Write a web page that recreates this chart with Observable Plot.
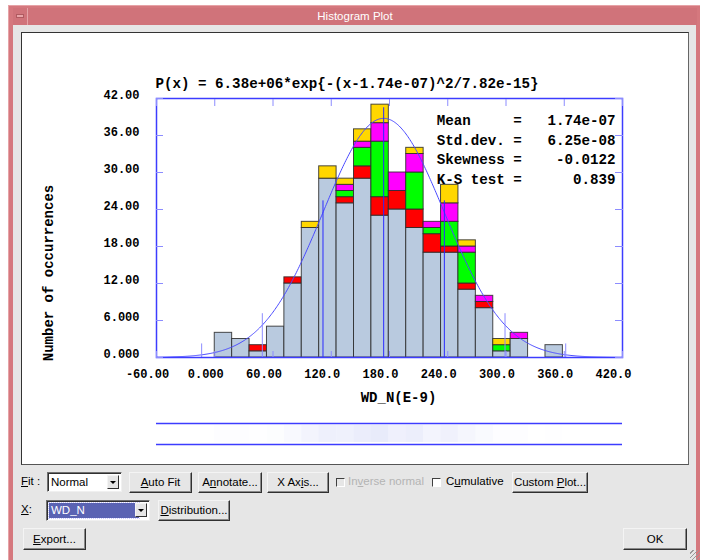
<!DOCTYPE html>
<html><head><meta charset="utf-8">
<script src="https://cdn.jsdelivr.net/npm/d3@7"></script>
<script src="https://cdn.jsdelivr.net/npm/@observablehq/plot@0.6"></script>
<style>
html,body{margin:0;padding:0;background:#fff;}
body{width:704px;height:560px;overflow:hidden;position:relative;font-family:"Liberation Sans",Arial,sans-serif;font-size:11.5px;color:#000;}
.abs{position:absolute;box-sizing:border-box;white-space:nowrap;}
.win{left:8px;top:5px;width:692px;height:560px;background:#d5787e;border-top:1px solid #e6a3a7;border-left:1px solid #e6a3a7;}
.title{left:13px;top:8px;width:684px;height:17px;color:#fff;text-align:center;line-height:17px;font-size:11.5px;background:#d0737a;}
.menu{left:13px;top:8px;width:15px;height:17px;border-right:1px solid #e6a3a7;}
.menu i{position:absolute;left:3px;top:6px;width:8px;height:4px;background:#e9a4a8;border:1px solid #b05a60;box-sizing:border-box;}
.client{left:13px;top:25px;width:683px;height:540px;background:#e6e6e6;}
.panel{left:21px;top:32px;width:668px;height:433px;background:#fff;border:1px solid #444;border-color:#333 #666 #555 #333;}
.btn{background:#e6e6e6;border:1px solid;border-color:#f4f4f4 #303030 #303030 #f4f4f4;box-shadow:inset -1px -1px #8a8a8a;text-align:center;}
.sel{background:#fff;border:1px solid;border-color:#707070 #f0f0f0 #f0f0f0 #707070;box-shadow:inset 1px 1px #303030;}
.arr{position:absolute;right:2px;top:2px;width:12px;height:14px;box-sizing:border-box;background:#e6e6e6;border:1px solid;border-color:#f4f4f4 #303030 #303030 #f4f4f4;}
.arr:after{content:"";position:absolute;left:2px;top:5px;border-left:3px solid transparent;border-right:3px solid transparent;border-top:3px solid #000;}
.cb{width:9px;height:9px;border:1px solid;border-color:#404040 #fff #fff #404040;background:#e6e6e6;}
.grip{right:4px;bottom:0px;width:10px;height:10px;background:repeating-linear-gradient(135deg,transparent 0 2px,#999 2px 3px);}
u{text-decoration:underline;}
</style>
</head><body>
<div class="abs win"></div>
<div class="abs title">Histogram Plot</div>
<div class="abs menu"><i></i></div>
<div class="abs client"></div>
<div class="abs grip"></div>
<div class="abs panel" id="panel"></div>

<div class="abs" style="left:21px;top:475px;"><u>F</u>it :</div>
<div class="abs sel" style="left:47px;top:472px;width:75px;height:20px;line-height:18px;padding-left:3px;">Normal<span class="arr"></span></div>
<div class="abs btn" style="left:129px;top:472px;width:63px;height:21px;line-height:19px;"><u>A</u>uto Fit</div>
<div class="abs btn" style="left:198px;top:472px;width:64px;height:21px;line-height:19px;">A<u>n</u>notate...</div>
<div class="abs btn" style="left:267px;top:472px;width:62px;height:21px;line-height:19px;">X Ax<u>i</u>s...</div>
<div class="abs cb" style="left:336px;top:478px;"></div>
<div class="abs" style="left:348px;top:475px;color:#b4b4b4;">In<u>v</u>erse normal</div>
<div class="abs cb" style="left:432px;top:478px;background:#fff;"></div>
<div class="abs" style="left:446px;top:475px;">C<u>u</u>mulative</div>
<div class="abs btn" style="left:512px;top:472px;width:76px;height:21px;line-height:19px;">Custom <u>P</u>lot...</div>

<div class="abs" style="left:21px;top:503px;"><u>X</u>:</div>
<div class="abs sel" style="left:46px;top:500px;width:104px;height:21px;padding:2px;"><div style="background:#5a63b3;color:#fff;height:15px;line-height:15px;width:88px;outline:1px dotted #c8c8ff;padding-left:2px;">WD_N</div><span class="arr"></span></div>
<div class="abs btn" style="left:158px;top:500px;width:72px;height:21px;line-height:19px;"><u>D</u>istribution...</div>

<div class="abs btn" style="left:23px;top:528px;width:63px;height:22px;line-height:20px;"><u>E</u>xport...</div>
<div class="abs btn" style="left:623px;top:528px;width:64px;height:22px;line-height:20px;">OK</div>

<script>
// ---- data ----
const binStarts = [0, 17.93, 35.86, 53.79, 71.72, 89.65, 107.58, 125.51, 143.44, 161.37,
                   179.3, 197.23, 215.16, 233.09, 251.02, 268.95, 286.88, 304.81, 322.74, 340.67];
const binWidth = 17.93; // E-9 units
const layerNames = ["base", "red", "green", "magenta", "yellow"];
const layerColors = ["#b9cadf", "#ff0000", "#00ff00", "#ff00ff", "#ffd700"];
const baseCounts    = [4, 3, 1, 5, 12, 21, 29, 25, 29, 23, 24, 21, 17, 17, 11, 8, 1, 3, 0, 2];
const redCounts     = [0, 0, 1, 0, 1, 0, 0, 1, 2, 3, 3, 3, 3, 1, 1, 1, 0, 0, 0, 0];
const greenCounts   = [0, 0, 0, 0, 0, 0, 0, 1, 3, 9, 0, 6, 1, 4, 5, 0, 1, 0, 0, 0];
const magentaCounts = [0, 0, 0, 0, 0, 0, 0, 1, 1, 3, 3, 3, 1, 3, 1, 1, 0, 1, 0, 0];
const yellowCounts  = [0, 0, 0, 0, 0, 1, 2, 1, 2, 3, 0, 1, 0, 3, 1, 0, 1, 0, 0, 0];

const xTickValues = [-60, 0, 60, 120, 180, 240, 300, 360, 420];
const xTickLabels = ["-60.00", "0.000", "60.00", "120.0", "180.0", "240.0", "300.0", "360.0", "420.0"];
const yTickValues = [0, 6, 12, 18, 24, 30, 36, 42];
const yTickLabels = ["0.000", "6.000", "12.00", "18.00", "24.00", "30.00", "36.00", "42.00"];

const formulaText = "P(x) = 6.38e+06*exp{-(x-1.74e-07)^2/7.82e-15}";
const fitAmp = 6.38e6;      // per metre
const fitMean = 174;        // E-9  (1.74e-07)
const fitSigma = 62.5;      // E-9  (6.25e-08)
const fitTwoVar = 7820;     // E-18 (7.82e-15)
const statNames = ["Mean", "Std.dev.", "Skewness", "K-S test"];
const statValues = ["1.74e-07", "6.25e-08", "-0.0122", "0.839"];
const markerSigmas = [-3, -2, -1, 0, 1, 2, 3];
const markerHeights = [2.2, 7.1, 25.4, 40.5, 25.4, 7.1, 2.2];
const xTitle = "WD_N(E-9)";
const yTitle = "Number of occurrences";

// ---- derived tables ----
const countsByLayer = [baseCounts, redCounts, greenCounts, magentaCounts, yellowCounts];
const rows = [];
binStarts.forEach((s, i) => {
  layerNames.forEach((L, j) => {
    const c = countsByLayer[j][i];
    if (c > 0) rows.push({x1: s, x2: s + binWidth, layer: L, count: c});
  });
});
const totals = binStarts.map((s, i) => ({x1: s, x2: s + binWidth, total: d3.sum(countsByLayer, a => a[i])}));
const N = d3.sum(totals, d => d.total);
const maxTotal = d3.max(totals, d => d.total);
const fitPeak = fitAmp * N * binWidth * 1e-9;
const curve = d3.range(-60, 420.01, 1).map(x => ({x, y: fitPeak * Math.exp(-((x - fitMean) ** 2) / fitTwoVar)}));
const markers = markerSigmas.map((k, i) => ({k, x: fitMean + k * fitSigma, h: markerHeights[i]}));
const xLabelMap = new Map(xTickValues.map((v, i) => [v, xTickLabels[i]]));
const yLabelMap = new Map(yTickValues.map((v, i) => [v, yTickLabels[i]]));
const nb = s => s.replace(/ /g, "\u00a0");
const statsText = statNames.map((n, i) => nb(n.padEnd(9) + "=" + statValues[i].padStart(11))).join("\n");

const blue = "#3c3cff", lightBlue = "#8c8cff";
const mono = "'Liberation Mono', 'DejaVu Sans Mono', monospace";

const chart = Plot.plot({
  width: 666, height: 380,
  marginLeft: 134, marginRight: 66, marginTop: 65, marginBottom: 56,
  style: {background: "transparent", fontFamily: mono, fontSize: "12px", fontWeight: "bold", color: "#000", overflow: "visible"},
  x: {domain: [-60, 420]},
  y: {domain: [0, 42]},
  color: {type: "ordinal", domain: layerNames, range: layerColors},
  marks: [
    Plot.rectY(rows, {x1: "x1", x2: "x2", y: "count", z: "layer", fill: "layer", order: layerNames,
      stroke: "#2a2a2a", strokeWidth: 1, strokeOpacity: 0.85}),
    Plot.line(curve, {x: "x", y: "y", stroke: "#4a4aff", strokeWidth: 1}),
    Plot.ruleX(markers, {x: "x", y1: 0, y2: "h", stroke: d => Math.abs(d.k) <= 1 ? "#2a2aff" : lightBlue, strokeWidth: 1}),
    Plot.frame({stroke: blue, strokeWidth: 1.5}),
    Plot.axisX(xTickValues, {anchor: "bottom", tickSize: 0, tickPadding: 12, dx: -9, tickFormat: d => xLabelMap.get(d), label: null, fontSize: 12}),
    Plot.axisX(xTickValues, {anchor: "bottom", tickSize: -6, tickFormat: () => "", label: null, stroke: lightBlue}),
    Plot.axisX(xTickValues, {anchor: "top", tickSize: -7, tickFormat: () => "", label: null, stroke: lightBlue}),
    Plot.axisY(yTickValues, {anchor: "left", tickSize: 0, tickPadding: 17, dy: -3, tickFormat: d => yLabelMap.get(d), label: null, fontSize: 12}),
    Plot.axisY(yTickValues, {anchor: "left", tickSize: -7, tickFormat: () => "", label: null, stroke: lightBlue}),
    Plot.axisY(yTickValues, {anchor: "right", tickSize: -8, tickFormat: () => "", label: null, stroke: lightBlue}),
    Plot.text([formulaText], {frameAnchor: "top-left", text: d => d, textAnchor: "start", lineAnchor: "bottom", dx: -1, dy: -11, fontSize: 14.2}),
    Plot.text([statsText], {frameAnchor: "top-right", text: d => d, textAnchor: "end", lineAnchor: "top", dx: -7, dy: 13, fontSize: 14.2, lineHeight: 1.37}),
    Plot.text([xTitle], {frameAnchor: "bottom", text: d => d, lineAnchor: "middle", dx: 9, dy: 40, fontSize: 14}),
    Plot.text([yTitle], {frameAnchor: "left", text: d => d, rotate: -90, textAnchor: "middle", lineAnchor: "middle", dx: -108, dy: 45, fontSize: 14})
  ]
});
chart.style.position = "absolute";
chart.style.left = "0px";
chart.style.top = "0px";

const strip = Plot.plot({
  width: 666, height: 23,
  marginLeft: 134, marginRight: 66, marginTop: 1, marginBottom: 1,
  style: {background: "transparent", overflow: "visible"},
  x: {domain: [-60, 420], axis: null},
  y: {domain: [0, 1], axis: null},
  marks: [
    Plot.rect(totals, {x1: "x1", x2: "x2", y1: 0, y2: 1, insetTop: 2, insetBottom: 2, fill: "#b4bcf0", fillOpacity: d => 0.3 * d.total / maxTotal}),
    Plot.ruleY([0, 1], {stroke: blue, strokeWidth: 1.3})
  ]
});
strip.style.position = "absolute";
strip.style.left = "0px";
strip.style.top = "389px";

const panel = document.getElementById("panel");
panel.appendChild(chart);
panel.appendChild(strip);
</script>
</body></html>
